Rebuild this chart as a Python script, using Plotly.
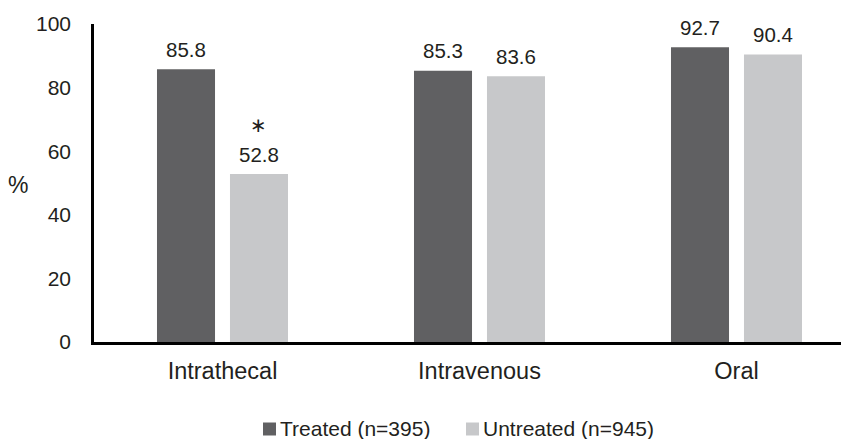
import plotly.graph_objects as go

# ---- data ----
categories = ["Intrathecal", "Intravenous", "Oral"]
treated = [85.8, 85.3, 92.7]
untreated = [52.8, 83.6, 90.4]
series_names = ["Treated (n=395)", "Untreated (n=945)"]
significant_untreated = [True, False, False]
y_ticks = [0, 20, 40, 60, 80, 100]

# ---- style ----
OFF = 8  # page body margin of the browser
W, H = 849 - OFF, 439 - OFF
ML, MR, MT, MB = 94 - OFF, 0, 24 - OFF, 97
PW, PH = W - ML - MR, H - MT - MB
C_T = "#606062"
C_U = "#c7c8ca"
TXT = "#231f20"
FONT = "Liberation Sans, Arial, Helvetica, sans-serif"
BARGAP = 0.432
BARGROUPGAP = 0.205


def px2paper_x(px):
    # px is a page pixel position
    return (px - OFF - ML) / PW


def px2paper_y(py):
    return (H - MB - (py - OFF)) / PH


fig = go.Figure()
fig.add_trace(go.Bar(x=categories, y=treated, name=series_names[0],
                     marker=dict(color=C_T, line=dict(width=0)), showlegend=False))
fig.add_trace(go.Bar(x=categories, y=untreated, name=series_names[1],
                     marker=dict(color=C_U, line=dict(width=0)), showlegend=False))

slot = (1 - BARGAP) / 2
annotations = []
for i, cat in enumerate(categories):
    annotations.append(dict(x=i - slot / 2, y=treated[i], xref="x", yref="y",
                            text=f"{treated[i]:.1f}", showarrow=False,
                            yanchor="middle", yshift=20,
                            font=dict(size=20.5, color=TXT, family=FONT)))
    annotations.append(dict(x=i + slot / 2, y=untreated[i], xref="x", yref="y",
                            text=f"{untreated[i]:.1f}", showarrow=False,
                            yanchor="middle", yshift=20,
                            font=dict(size=20.5, color=TXT, family=FONT)))
    if significant_untreated[i]:
        annotations.append(dict(x=i + slot / 2, y=untreated[i], xref="x", yref="y",
                                text="∗", showarrow=False,
                                yanchor="middle", yshift=49,
                                font=dict(size=20, color=TXT, family="DejaVu Sans")))

# y-axis title "%"
annotations.append(dict(x=px2paper_x(17.5), y=px2paper_y(185), xref="paper", yref="paper",
                        text="%", showarrow=False, xanchor="center", yanchor="middle",
                        font=dict(size=23, color=TXT, family=FONT)))

# custom legend
legend_items = [(series_names[0], C_T, 263), (series_names[1], C_U, 466)]
shapes = []
for name, col, x0 in legend_items:
    shapes.append(dict(type="rect", xref="paper", yref="paper",
                       x0=px2paper_x(x0), x1=px2paper_x(x0 + 13),
                       y0=px2paper_y(435.5), y1=px2paper_y(422.5),
                       fillcolor=col, line=dict(width=0)))
    annotations.append(dict(x=px2paper_x(x0 + 15), y=px2paper_y(428.5), xref="paper", yref="paper",
                            text=name, showarrow=False, xanchor="left", yanchor="middle",
                            font=dict(size=21, color=TXT, family=FONT)))

fig.update_layout(
    width=W, height=H,
    margin=dict(l=ML, r=MR, t=MT, b=MB, pad=0),
    paper_bgcolor="white", plot_bgcolor="white",
    barmode="group", bargap=BARGAP, bargroupgap=BARGROUPGAP,
    font=dict(family=FONT, color=TXT),
    annotations=annotations, shapes=shapes,
    showlegend=False,
)
fig.update_xaxes(range=[-0.5, -0.5 + PW / 257], showgrid=False, zeroline=False,
                 showline=True, linecolor="#000000", linewidth=2.5,
                 ticks="outside", ticklen=6, tickcolor="rgba(0,0,0,0)",
                 tickfont=dict(size=23.5, color=TXT, family=FONT))
fig.update_yaxes(range=[0, 100], tickvals=y_ticks, showgrid=False, zeroline=False,
                 showline=True, linecolor="#000000", linewidth=2.5,
                 ticks="outside", ticklen=16, tickcolor="rgba(0,0,0,0)",
                 tickfont=dict(size=21, color=TXT, family=FONT))

fig.write_html("out.html")
